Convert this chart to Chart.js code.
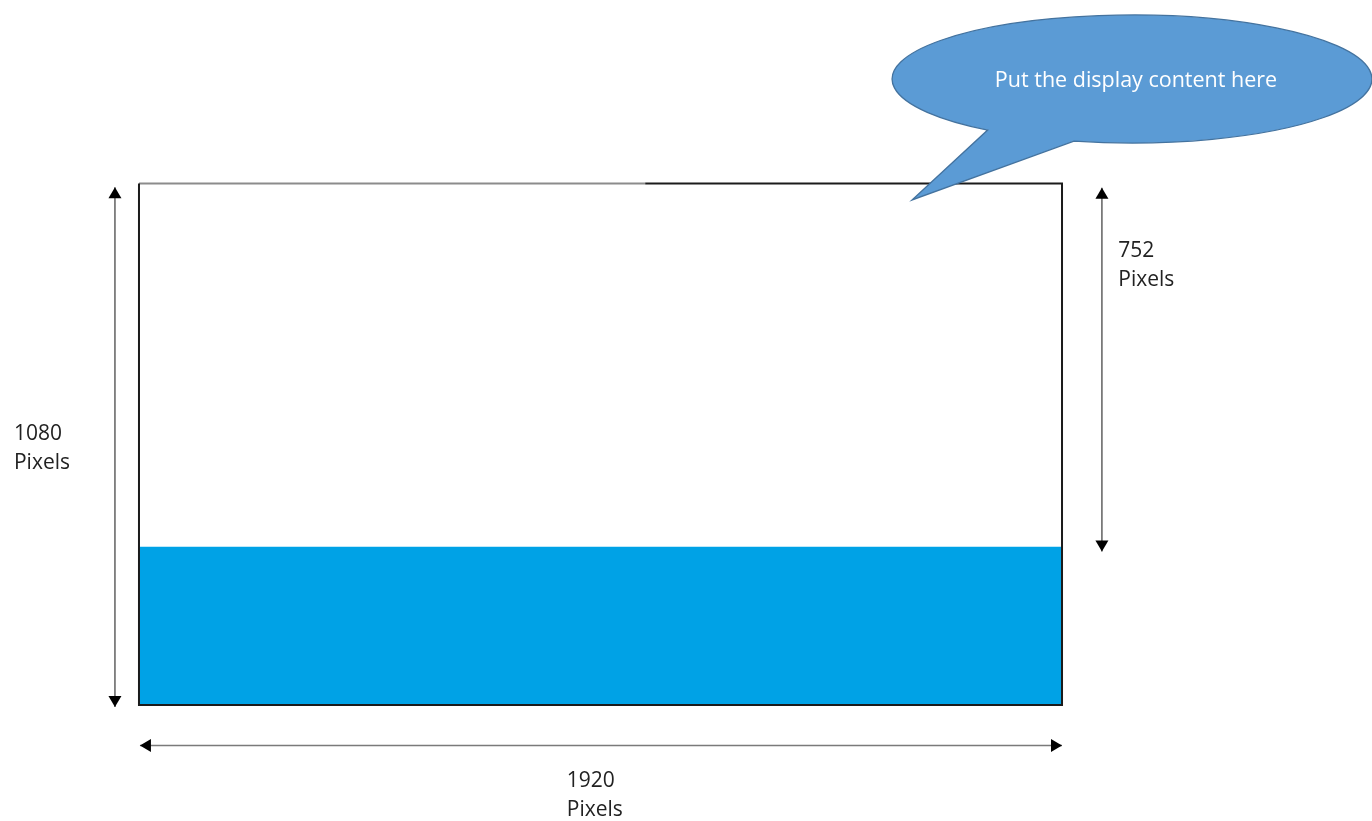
<!DOCTYPE html>
<html><head><meta charset="utf-8">
<script src="https://cdn.jsdelivr.net/npm/chart.js@4"></script>
<style>html,body{margin:0;padding:0;background:#fff;overflow:hidden}#wrap{width:1372px;height:821px;position:relative}</style>
</head><body><div id="wrap"><canvas id="c" width="1372" height="821"></canvas></div>
<script>
// ---- data (screen measured in pixels) ----
const screenWidthPx = [1920];
const screenHeightPx = [1080];
const displayHeightPx = [752];
const dimensionValues = ['1920', '1080', '752'];
const dimensionUnits = ['Pixels', 'Pixels', 'Pixels'];
const calloutText = ['Put the display content here'];

const W = screenWidthPx[0], H = screenHeightPx[0], D = displayHeightPx[0];

// ---- layout in the same screen-pixel units ----
const view = { xMin: -289.1, xMax: 2564.8, yMin: -380.0, yMax: 1320.2 };
const arrowW = { y: 1164 };            // horizontal measure below frame
const arrowH = { x: -50, inset: 8 };   // vertical measure left of frame
const arrowD = { x: 2003, inset: 9 };  // display measure right of frame
const topSplit = 1053;                 // where the top border changes tone

const datasets = [
  { // display area
    data: [{ x: 0, y: D }, { x: W, y: D }],
    fill: { value: H }, backgroundColor: '#00A2E6', borderWidth: 0, order: 10
  },
  { // frame
    data: [{ x: topSplit, y: 0 }, { x: W, y: 0 }, { x: W, y: H }, { x: 0, y: H }, { x: 0, y: 0 }],
    fill: false, borderColor: '#1b1b1b', borderWidth: 2, order: 5
  },
  { // frame top (lighter part)
    data: [{ x: 0, y: 0 }, { x: topSplit, y: 0 }],
    fill: false, borderColor: '#8c8c8c', borderWidth: 2, order: 6
  },
  { // width arrow
    data: [{ x: 2, y: arrowW.y }, { x: W, y: arrowW.y }],
    fill: false, borderColor: '#7a7a7a', borderWidth: 1.6, arrow: true, order: 4
  },
  { // height arrow
    data: [{ x: arrowH.x, y: arrowH.inset }, { x: arrowH.x, y: H + 4 }],
    fill: false, borderColor: '#555', borderWidth: 1.4, arrow: true, order: 4
  },
  { // display arrow
    data: [{ x: arrowD.x, y: arrowD.inset }, { x: arrowD.x, y: D + 10 }],
    fill: false, borderColor: '#555', borderWidth: 1.4, arrow: true, order: 4
  }
];

const arrowHeads = {
  id: 'arrowHeads',
  afterDatasetsDraw(chart) {
    const ctx = chart.ctx;
    chart.data.datasets.forEach((ds, i) => {
      if (!ds.arrow) return;
      const pts = chart.getDatasetMeta(i).data;
      const a = pts[0], b = pts[pts.length - 1];
      [[a, b], [b, a]].forEach(([tip, from]) => {
        const dx = tip.x - from.x, dy = tip.y - from.y;
        const len = Math.hypot(dx, dy), ux = dx / len, uy = dy / len;
        const L = 11, hw = 6.5;
        const bx = tip.x - ux * L, by = tip.y - uy * L;
        ctx.save();
        ctx.fillStyle = '#000';
        ctx.beginPath();
        ctx.moveTo(tip.x, tip.y);
        ctx.lineTo(bx - uy * hw, by + ux * hw);
        ctx.lineTo(bx + uy * hw, by - ux * hw);
        ctx.closePath();
        ctx.fill();
        ctx.restore();
      });
    });
  }
};

const callout = {
  id: 'callout',
  afterDatasetsDraw(chart) {
    const ctx = chart.ctx, sx = chart.scales.x, sy = chart.scales.y;
    const px = v => sx.getPixelForValue(v), py = v => sy.getPixelForValue(v);
    // bubble geometry in screen units
    const cx = px(2065.6), cy = py(-216.4);
    const rx = px(2065.6 + 499) - cx, ry = py(-216.4 + 132.5) - cy;
    const tipX = px(1608), tipY = py(34);
    const a1 = 127 * Math.PI / 180, a2 = (104 + 360) * Math.PI / 180;
    ctx.save();
    ctx.beginPath();
    ctx.ellipse(cx, cy, rx, ry, 0, a1, a2, false);
    ctx.lineTo(tipX, tipY);
    ctx.closePath();
    ctx.fillStyle = '#5B9BD5';
    ctx.fill();
    ctx.strokeStyle = '#44739F';
    ctx.lineWidth = 1.3;
    ctx.stroke();
    ctx.fillStyle = '#ffffff';
    ctx.font = '21.5px "Open Sans", sans-serif';
    ctx.textAlign = 'center';
    ctx.textBaseline = 'alphabetic';
    ctx.fillText(calloutText[0], cx + 4, cy + 8);
    ctx.restore();

    // dimension labels
    const labels = [
      { x: 890, y: 1250, gap: 29 },   // 1920
      { x: -260, y: 531, gap: 29 },   // 1080
      { x: 2037, y: 152, gap: 29 }    // 752
    ];
    ctx.save();
    ctx.fillStyle = '#222';
    ctx.font = '21px "Open Sans", sans-serif';
    ctx.textAlign = 'left';
    ctx.textBaseline = 'alphabetic';
    labels.forEach((p, i) => {
      const X = px(p.x), Y = py(p.y);
      ctx.fillText(dimensionValues[i], X, Y);
      ctx.fillText(dimensionUnits[i], X, Y + p.gap);
    });
    ctx.restore();
  }
};

new Chart(document.getElementById('c'), {
  type: 'line',
  data: { datasets },
  options: {
    responsive: false,
    devicePixelRatio: 1,
    animation: false,
    layout: { padding: 0 },
    elements: { point: { radius: 0, hoverRadius: 0 }, line: { tension: 0, capBezierPoints: false } },
    scales: {
      x: { type: 'linear', min: view.xMin, max: view.xMax, display: false },
      y: { type: 'linear', min: view.yMin, max: view.yMax, reverse: true, display: false }
    },
    plugins: { legend: { display: false }, tooltip: { enabled: false } },
    events: []
  },
  plugins: [arrowHeads, callout]
});
</script>
</body></html>
